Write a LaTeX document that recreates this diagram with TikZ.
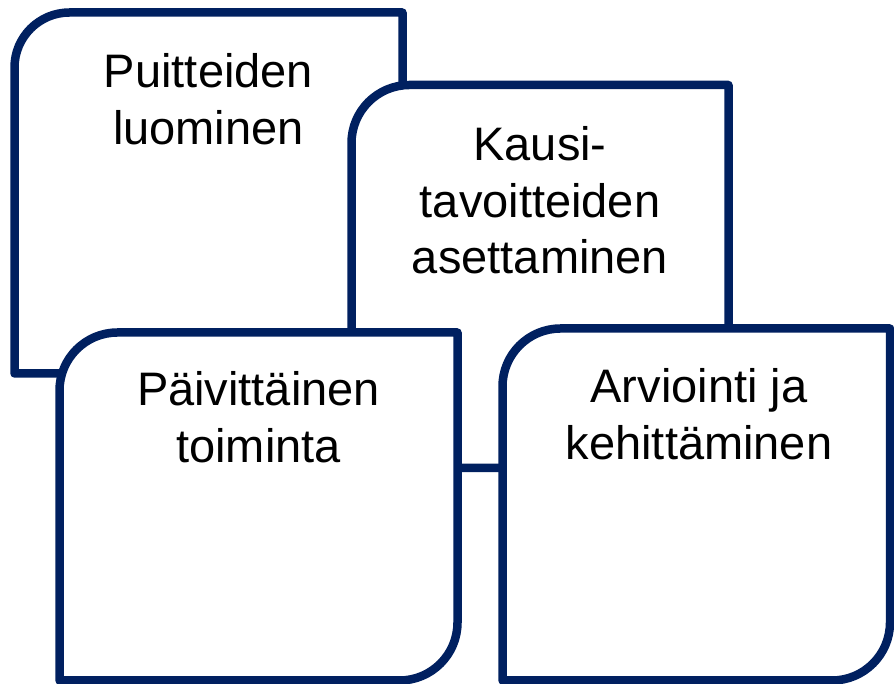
\documentclass[tikz,border=0pt]{standalone}
\usepackage{fontspec}
\setmainfont{Liberation Sans}
\definecolor{tummansininen}{RGB}{0,32,96}

\begin{document}
\begin{tikzpicture}[x=1pt,y=1pt,
    laatikko/.style={draw=tummansininen,line width=8.5pt,fill=white,line join=round},
    teksti/.style={anchor=north,inner sep=0pt,align=center,font=\fontsize{47}{56.5}\selectfont}]
    \useasboundingbox (0,0) rectangle (894,684);
    % laatikot, kulmat vasen ylä ja oikea ala pyöristetty
    \draw[laatikko] (402.5,671.5) -- (402.5,365.5) arc[start angle=0,end angle=-90,radius=55]
        -- (14.5,310.5) -- (14.5,616.5) arc[start angle=180,end angle=90,radius=55] -- cycle;
    \node[teksti] (puitteet) at (208.5,630.7) {Puitteiden\\luominen};
    \draw[laatikko] (728.5,599) -- (728.5,274) arc[start angle=0,end angle=-90,radius=58]
        -- (351.5,216) -- (351.5,541) arc[start angle=180,end angle=90,radius=58] -- cycle;
    \node[teksti] (tavoitteet) at (540,557.7) {Kausi-\\tavoitteiden\\asettaminen};
    \draw[laatikko] (457.5,351.5) -- (457.5,61.5) arc[start angle=0,end angle=-90,radius=58]
        -- (59.5,3.5) -- (59.5,293.5) arc[start angle=180,end angle=90,radius=58] -- cycle;
    \node[teksti] (toiminta) at (258.5,312.7) {Päivittäinen\\toiminta};
    \draw[laatikko] (890,355.5) -- (890,61.5) arc[start angle=0,end angle=-90,radius=58]
        -- (502.5,3.5) -- (502.5,297.5) arc[start angle=180,end angle=90,radius=58] -- cycle;
    \node[teksti] (arviointi) at (699,315.7) {Arviointi ja\\kehittäminen};
\end{tikzpicture}
\end{document}
